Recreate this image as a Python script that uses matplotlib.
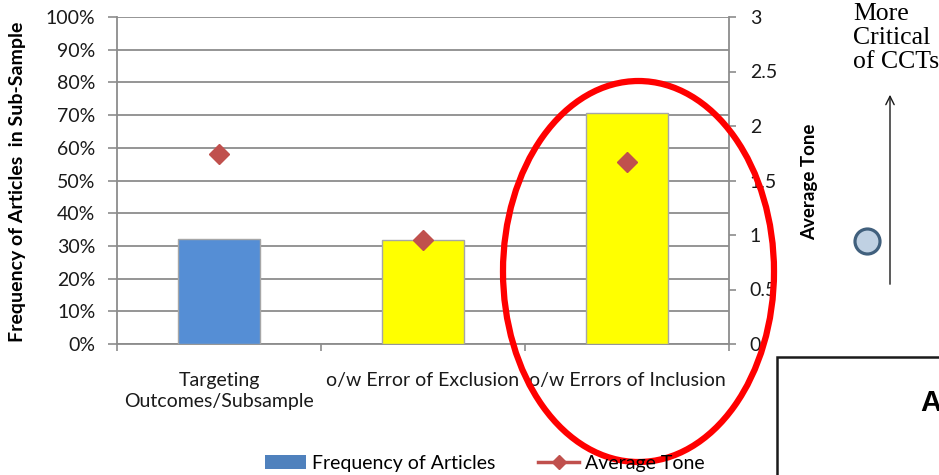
import matplotlib
matplotlib.use("Agg")
import matplotlib.pyplot as plt
from matplotlib.patches import Ellipse, Rectangle, Patch, FancyArrowPatch
from matplotlib.lines import Line2D

plt.rcParams['font.family'] = ['Lato', 'DejaVu Sans']

# data
categories = ["Targeting\nOutcomes/Subsample", "o/w Error of Exclusion", "o/w Errors of Inclusion"]
frequency = [0.322, 0.318, 0.707]          # share of articles in sub-sample
avg_tone = [1.74, 0.95, 1.67]               # average tone score
bar_colors = ["#558ED5", "#FFFF00", "#FFFF00"]
pct_ticks = [0, 0.1, 0.2, 0.3, 0.4, 0.5, 0.6, 0.7, 0.8, 0.9, 1.0]
pct_labels = ["0%", "10%", "20%", "30%", "40%", "50%", "60%", "70%", "80%", "90%", "100%"]
tone_ticks = [0, 0.5, 1, 1.5, 2, 2.5, 3]
tone_labels = ["0", "0.5", "1", "1.5", "2", "2.5", "3"]

W, H = 939, 475
fig = plt.figure(figsize=(W / 100, H / 100), dpi=100)

def fx(px):
    return px / W

def fy(py):
    return 1 - py / H

ax = fig.add_axes([fx(117), fy(344), fx(729) - fx(117), fy(17) - fy(344)])
grid_c = "#8C8C8C"
txt_c = "#1a1a1a"
x = list(range(len(categories)))
ax.bar(x, frequency, width=0.4, color=bar_colors, edgecolor="#A6A6A6", linewidth=1.0, zorder=3)
ax.set_xlim(-0.5, 2.5)
ax.set_ylim(0, 1.0)
ax.set_yticks(pct_ticks)
ax.set_yticklabels(pct_labels, fontsize=14, color=txt_c)
ax.yaxis.grid(True, color=grid_c, linewidth=1.3, zorder=0)
ax.set_axisbelow(True)
ax.tick_params(axis='y', length=6.5, width=1.2, color=grid_c, pad=9)
ax.set_xticks(x)
ax.set_xticklabels(categories, fontsize=14, color=txt_c, linespacing=1.3)
ax.set_xticks([-0.5, 0.5, 1.5, 2.5], minor=True)
ax.tick_params(axis='x', which='major', length=0, pad=20)
ax.tick_params(axis='x', which='minor', length=5, width=1.2, color=grid_c)
for s in ["top", "right"]:
    ax.spines[s].set_visible(False)
for s in ["left", "bottom"]:
    ax.spines[s].set_color(grid_c)
    ax.spines[s].set_linewidth(1.3)

ax2 = ax.twinx()
ax2.plot(x, avg_tone, linestyle="none", marker="D", markersize=10.5,
         color="#C0504D", zorder=5)
ax2.set_ylim(0, 3)
ax2.set_yticks(tone_ticks)
ax2.set_yticklabels(tone_labels, fontsize=14, color=txt_c)
ax2.tick_params(axis='y', length=5, width=1.2, color=grid_c, pad=10)
for s in ["top", "left", "bottom"]:
    ax2.spines[s].set_visible(False)
ax2.spines["right"].set_color(grid_c)
ax2.spines["right"].set_linewidth(1.3)

# axis titles
fig.text(fx(18), fy(182), "Frequency of Articles  in Sub-Sample", rotation=90,
         ha="center", va="center", fontsize=14, fontweight="bold")
fig.text(fx(810), fy(182), "Average Tone", rotation=90,
         ha="center", va="center", fontsize=13.5, fontweight="bold")

# legend
handles = [Patch(facecolor="#4F81BD", edgecolor="none"),
           Line2D([0], [0], color="#C0504D", linewidth=2.5, marker="D", markersize=7)]
fig.legend(handles, ["Frequency of Articles", "Average Tone"], loc="center",
           bbox_to_anchor=(fx(485), fy(463)), ncol=2, frameon=False, fontsize=14,
           handlelength=2.1, handletextpad=0.3, columnspacing=2.2)

# highlight ring
fig.add_artist(Ellipse((fx(638.5), fy(271.5)), fx(271), 381 / H, fill=False,
                       edgecolor="#FF0000", linewidth=4.5, transform=fig.transFigure))

# side annotation
fig.text(fx(853), fy(3), "More\nCritical\nof CCTs", ha="left", va="top",
         fontsize=18.5, family="Liberation Serif", linespacing=1.12)
fig.add_artist(FancyArrowPatch(
    (fx(890), fy(287)), (fx(890), fy(92)), transform=fig.transFigure,
    arrowstyle="->,head_length=6,head_width=3", color=txt_c, linewidth=1.0))
fig.add_artist(Line2D([fx(867)], [fy(241)], marker="o", markersize=18,
                      markerfacecolor="#C0D1E3", markeredgecolor="#41607D",
                      markeredgewidth=2.3, transform=fig.transFigure))

# boxed panel at lower right
fig.add_artist(Rectangle((fx(777), fy(480)), fx(200), fy(357) - fy(480), fill=False,
                         edgecolor=txt_c, linewidth=1.8, transform=fig.transFigure))
fig.text(fx(920), fy(403), "A", ha="left", va="center", fontsize=21,
         fontweight="bold", family="Liberation Sans")

fig.savefig("out.png", dpi=100)
